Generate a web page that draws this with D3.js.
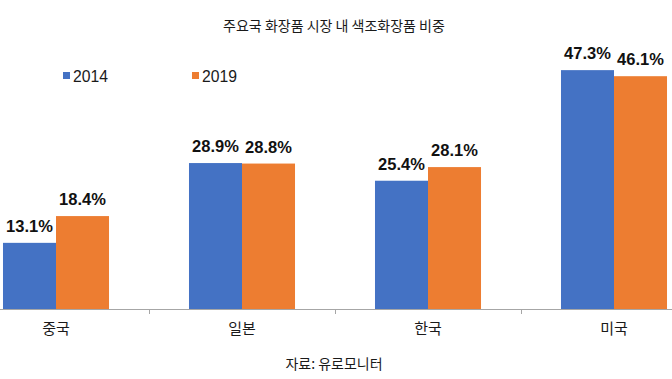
<!DOCTYPE html>
<html><head><meta charset="utf-8">
<script src="https://cdn.jsdelivr.net/npm/d3@7"></script>
<style>
html,body{margin:0;padding:0;background:#fff;}
svg{display:block;}
</style>
</head><body>
<svg id="c" width="672" height="379"></svg>
<script>
const categories = ["중국", "일본", "한국", "미국"];
const seriesNames = ["2014", "2019"];
const values2014 = [13.1, 28.9, 25.4, 47.3];
const values2019 = [18.4, 28.8, 28.1, 46.1];
const colors = ["#4472C4", "#ED7D31"];
const titleText = "주요국 화장품 시장 내 색조화장품 비중";
const sourceText = "자료: 유로모니터";

const svg = d3.select("#c");
const W = 672, H = 379;
const baseY = 309;
const krFont = "'Noto Sans CJK KR', 'Noto Sans', sans-serif";
const numFont = "'Liberation Sans', Arial, sans-serif";

const x = d3.scaleBand().domain(categories).range([-37, 707]).paddingInner(0.43).paddingOuter(0.215);
const xs = d3.scaleBand().domain(seriesNames).range([0, x.bandwidth()]);
const y = d3.scaleLinear().domain([0, 50]).range([baseY, baseY - 50 * 5.05]);

const data = categories.map((c, i) => ({cat: c, vals: [values2014[i], values2019[i]]}));

// title
svg.append("text").attr("x", 334).attr("y", 31).attr("text-anchor", "middle")
  .attr("font-family", krFont).attr("font-size", 14).attr("fill", "#1a1a1a").text(titleText);

// legend
const legendX = [63, 192];
seriesNames.forEach((s, i) => {
  svg.append("rect").attr("x", legendX[i]).attr("y", 72).attr("width", 7).attr("height", 7).attr("fill", colors[i]);
  svg.append("text").attr("x", legendX[i] + 10).attr("y", 81.5)
    .attr("font-family", numFont).attr("font-size", 17).attr("fill", "#1a1a1a")
    .attr("textLength", 35).attr("lengthAdjust", "spacingAndGlyphs").text(s);
});

// bars
const groups = svg.selectAll("g.grp").data(data).join("g").attr("class", "grp")
  .attr("transform", d => `translate(${x(d.cat)},0)`);
groups.selectAll("rect").data(d => d.vals.map((v, i) => ({v, s: seriesNames[i], i})))
  .join("rect")
  .attr("x", d => xs(d.s)).attr("width", xs.bandwidth())
  .attr("y", d => y(d.v)).attr("height", d => baseY - y(d.v))
  .attr("fill", d => colors[d.i]);
groups.selectAll("text.lbl").data(d => d.vals.map((v, i) => ({v, s: seriesNames[i], i})))
  .join("text").attr("class", "lbl")
  .attr("x", d => xs(d.s) + xs.bandwidth() / 2).attr("y", d => y(d.v) - 11)
  .attr("text-anchor", "middle").attr("font-family", numFont).attr("font-weight", "bold")
  .attr("font-size", 16.5).attr("fill", "#111").text(d => d.v.toFixed(1) + "%");

// axis line and boundary ticks
svg.append("line").attr("x1", 0).attr("x2", W).attr("y1", baseY + 0.5).attr("y2", baseY + 0.5)
  .attr("stroke", "#a6a6a6").attr("stroke-width", 1.2);
const step = x.step();
categories.slice(1).forEach((c, i) => {
  const bx = Math.round(x(c) - (step - x.bandwidth()) / 2) + 0.5;
  svg.append("line").attr("x1", bx).attr("x2", bx).attr("y1", baseY).attr("y2", baseY + 5)
    .attr("stroke", "#a6a6a6").attr("stroke-width", 1);
});

// category labels via axis
const axisG = svg.append("g").attr("transform", `translate(0,${baseY})`)
  .call(d3.axisBottom(x).tickSize(0).tickPadding(14));
axisG.select(".domain").remove();
axisG.selectAll("text").attr("font-family", krFont).attr("font-size", 15)
  .attr("font-weight", "normal").attr("fill", "#1a1a1a");

// source
svg.append("text").attr("x", 334).attr("y", 369).attr("text-anchor", "middle")
  .attr("font-family", krFont).attr("font-size", 14).attr("fill", "#1a1a1a").text(sourceText);
</script>
</body></html>
